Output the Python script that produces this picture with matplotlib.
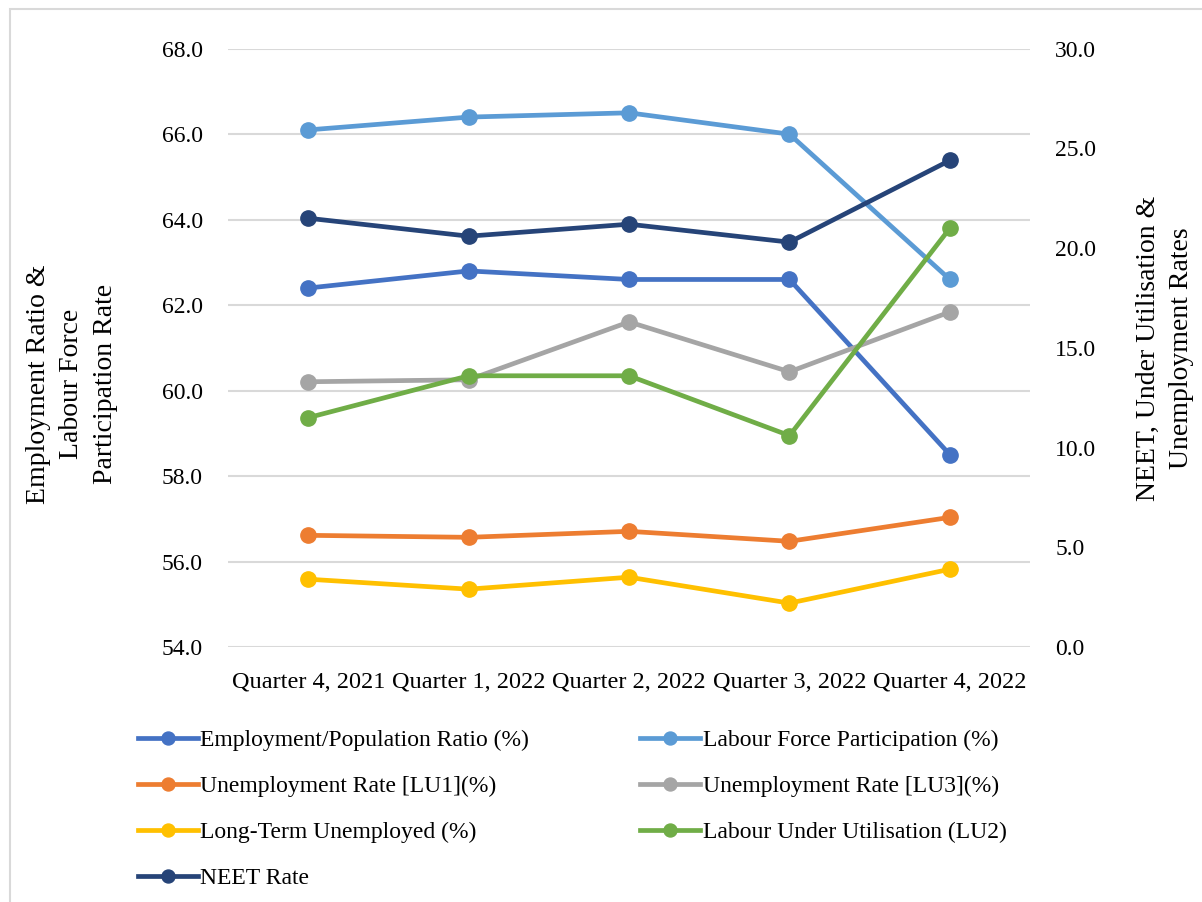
import matplotlib.pyplot as plt
from matplotlib.patches import Rectangle

quarters = ['Quarter 4, 2021', 'Quarter 1, 2022', 'Quarter 2, 2022',
            'Quarter 3, 2022', 'Quarter 4, 2022']

# left axis series
emp_pop = [62.4, 62.8, 62.6, 62.6, 58.5]
lfp = [66.1, 66.4, 66.5, 66.0, 62.6]

# right axis series
lu1 = [5.6, 5.5, 5.8, 5.3, 6.5]
lu3 = [13.3, 13.4, 16.3, 13.8, 16.8]
long_term = [3.4, 2.9, 3.5, 2.2, 3.9]
lu2 = [11.5, 13.6, 13.6, 10.6, 21.0]
neet = [21.5, 20.6, 21.2, 20.3, 24.4]

left_ticks = [54, 56, 58, 60, 62, 64, 66, 68]
right_ticks = [0, 5, 10, 15, 20, 25, 30]

font = 'Liberation Serif'
grid_color = '#D9D9D9'

fig = plt.figure(figsize=(12.02, 9.02), dpi=100)
ax = fig.add_axes([0.1897, 0.2827, 0.6673, 0.6633])
ax2 = ax.twinx()

x = list(range(len(quarters)))
style = dict(linewidth=3.4, marker='o', markersize=11)

h_emp, = ax.plot(x, emp_pop, color='#4472C4', label='Employment/Population Ratio (%)', **style)
h_lfp, = ax.plot(x, lfp, color='#5B9BD5', label='Labour Force Participation (%)', **style)
h_lu1, = ax2.plot(x, lu1, color='#ED7D31', label='Unemployment Rate [LU1](%)', **style)
h_lu3, = ax2.plot(x, lu3, color='#A5A5A5', label='Unemployment Rate [LU3](%)', **style)
h_ltu, = ax2.plot(x, long_term, color='#FFC000', label='Long-Term Unemployed (%)', **style)
h_lu2, = ax2.plot(x, lu2, color='#70AD47', label='Labour Under Utilisation (LU2)', **style)
h_neet, = ax2.plot(x, neet, color='#264478', label='NEET Rate', **style)

ax.set_xlim(-0.5, 4.5)
ax.set_ylim(54, 68)
ax2.set_ylim(0, 30)
ax.set_yticks(left_ticks)
ax.set_yticklabels([f'{v:.1f}' for v in left_ticks])
ax2.set_yticks(right_ticks)
ax2.set_yticklabels([f'{v:.1f}' for v in right_ticks])
ax.set_xticks(x)
ax.set_xticklabels(quarters)

ax.grid(axis='y', color=grid_color, linewidth=1.5)
ax.set_axisbelow(True)
for a in (ax, ax2):
    for s in a.spines.values():
        s.set_visible(False)
    a.tick_params(length=0, labelsize=17, labelcolor='#000000')
    for t in a.get_xticklabels() + a.get_yticklabels():
        t.set_fontfamily(font)
ax.tick_params(axis='y', pad=18)
ax2.tick_params(axis='y', pad=18)
ax.tick_params(axis='x', pad=18, labelsize=17.5)

fig.text(72 / 1202, 1 - 384 / 902,
         'Employment Ratio &\nLabour Force\nParticipation Rate',
         rotation=90, ha='center', va='center', multialignment='center',
         fontfamily=font, fontsize=20, linespacing=1.45)
fig.text(1165 / 1202, 1 - 348 / 902,
         'NEET, Under Utilisation &\nUnemployment Rates',
         rotation=90, ha='center', va='center', multialignment='center',
         fontfamily=font, fontsize=20, linespacing=1.45)

handles = [h_emp, h_lu1, h_ltu, h_neet, h_lfp, h_lu3, h_lu2]
fig.legend(handles=handles, labels=[h.get_label() for h in handles],
           ncol=2, loc='upper left', bbox_to_anchor=(0.097, 0.2145),
           frameon=False, prop={'family': font, 'size': 17},
           handlelength=2.55, handletextpad=0.1, columnspacing=4.7,
           labelspacing=1.03, markerscale=0.85)

fig.patches.append(Rectangle((10 / 1202, -0.1), 1.2, 1.1 - 9 / 902,
                             transform=fig.transFigure, fill=False,
                             edgecolor=grid_color, linewidth=1.5))

fig.savefig('out.png', dpi=100)
